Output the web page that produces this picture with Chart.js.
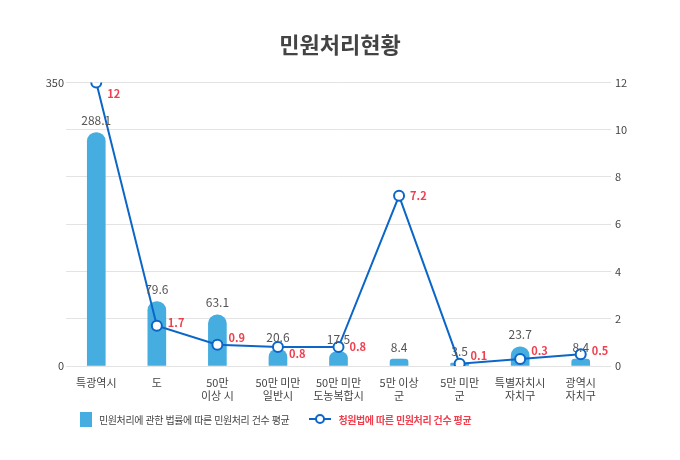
<!DOCTYPE html>
<html lang="ko">
<head>
<meta charset="utf-8">
<script src="https://cdn.jsdelivr.net/npm/chart.js@4"></script>
<style>
  body { margin: 0; background: #fff; font-family: 'Noto Sans CJK KR', 'Noto Sans', sans-serif; }
  #wrap { position: relative; width: 680px; height: 460px; }
  #legend { position: absolute; left: 80px; top: 412px; display: flex; align-items: center; font-size: 10px; letter-spacing: -0.4px; }
  .item { display: flex; align-items: center; }
  .box { width: 12px; height: 15px; background: #45ade0; margin-right: 7px; }
  .lineSym { position: relative; width: 22px; height: 15px; margin-right: 7px; }
  .lineSym:before { content: ''; position: absolute; left: 0; right: 0; top: 6px; height: 2px; background: #0b66c8; }
  .lineSym:after { content: ''; position: absolute; left: 6px; top: 2px; width: 6px; height: 6px; border: 2px solid #0b66c8; border-radius: 50%; background: #fff; }
</style>
</head>
<body>
<div id="wrap">
  <canvas id="chart" width="680" height="460"></canvas>
  <div id="legend">
    <div class="item" style="color:#444"><span class="box"></span>민원처리에 관한 법률에 따른 민원처리 건수 평균</div>
    <div class="item" style="color:#f0404f; margin-left:20px; font-weight:bold"><span class="lineSym"></span>청원법에 따른 민원처리 건수 평균</div>
  </div>
</div>
<script>
const categories = [['특광역시'], ['도'], ['50만', '이상 시'], ['50만 미만', '일반시'], ['50만 미만', '도농복합시'], ['5만 이상', '군'], ['5만 미만', '군'], ['특별자치시', '자치구'], ['광역시', '자치구']];
const barValues = [288.1, 79.6, 63.1, 20.6, 17.5, 8.4, 3.5, 23.7, 8.4];
const lineValues = [12, 1.7, 0.9, 0.8, 0.8, 7.2, 0.1, 0.3, 0.5];
const barLabel = '민원처리에 관한 법률에 따른 민원처리 건수 평균';
const lineLabel = '청원법에 따른 민원처리 건수 평균';

// small vertical nudges for the red labels so they don't sit on the line
const lineLabelDy = [11, -3, -7, 7, 0, 0, -8, -8, -3];

Chart.defaults.font.family = "'Noto Sans CJK KR', 'Noto Sans', sans-serif";
Chart.defaults.color = '#444';

const valueLabels = {
  id: 'valueLabels',
  afterDatasetsDraw(chart) {
    const ctx = chart.ctx;
    ctx.save();
    // bar values
    const barMeta = chart.getDatasetMeta(1);
    ctx.font = '12px ' + Chart.defaults.font.family;
    ctx.fillStyle = '#555';
    ctx.textAlign = 'center';
    ctx.textBaseline = 'bottom';
    barMeta.data.forEach((bar, i) => {
      ctx.fillText(barValues[i].toFixed(1), bar.x, bar.y - 6);
    });
    // line values
    const lineMeta = chart.getDatasetMeta(0);
    ctx.font = 'bold 11px ' + Chart.defaults.font.family;
    ctx.fillStyle = '#f0404f';
    ctx.textAlign = 'left';
    ctx.textBaseline = 'middle';
    lineMeta.data.forEach((pt, i) => {
      ctx.fillText(String(lineValues[i]), pt.x + 11, pt.y + lineLabelDy[i]);
    });
    ctx.restore();
  }
};

new Chart(document.getElementById('chart'), {
  type: 'bar',
  data: {
    labels: categories,
    datasets: [
      {
        type: 'line',
        label: lineLabel,
        data: lineValues,
        yAxisID: 'y2',
        borderColor: '#0b66c8',
        borderWidth: 2,
        tension: 0,
        pointRadius: 5,
        pointBorderWidth: 2,
        pointBackgroundColor: '#fff',
        pointBorderColor: '#0b66c8',
        order: 0
      },
      {
        label: barLabel,
        data: barValues,
        yAxisID: 'y',
        backgroundColor: '#45ade0',
        barThickness: 18,
        borderRadius: { topLeft: 9, topRight: 9 },
        borderSkipped: 'bottom',
        order: 1
      }
    ]
  },
  options: {
    responsive: false,
    animation: false,
    layout: { padding: { bottom: 50 } },
    plugins: {
      legend: { display: false },
      tooltip: { enabled: false },
      title: {
        display: true,
        text: '민원처리현황',
        color: '#444',
        font: { size: 22, weight: 'bold' },
        padding: { top: 31, bottom: 25 }
      }
    },
    scales: {
      x: {
        grid: { display: false },
        border: { display: false },
        ticks: { font: { size: 11 }, color: '#444', padding: 2, maxRotation: 0, autoSkip: false },
        afterFit: s => { s.height = 44; }
      },
      y: {
        position: 'left',
        min: 0,
        max: 350,
        border: { display: false },
        grid: { color: '#e3e3e3', drawTicks: false },
        ticks: {
          stepSize: 350 / 6,
          padding: 2,
          font: { size: 11 },
          color: '#444',
          callback: v => (v === 0 || v === 350) ? v : ''
        },
        afterFit: s => { s.width = 66; }
      },
      y2: {
        position: 'right',
        min: 0,
        max: 12,
        border: { display: false },
        grid: { display: false, drawTicks: false },
        ticks: { stepSize: 2, padding: 4, font: { size: 11 }, color: '#444' },
        afterFit: s => { s.width = 69; }
      }
    }
  },
  plugins: [valueLabels]
});
</script>
</body>
</html>
